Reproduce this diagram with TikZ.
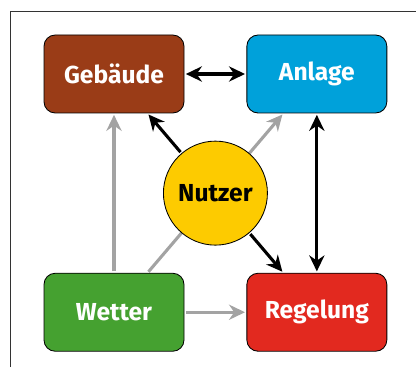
\documentclass[tikz,border=0pt]{standalone}
\usepackage{fontspec}
\setsansfont{Fira Sans}
\usepackage{xcolor}
\definecolor{gebbrown}{HTML}{9A3C17}
\definecolor{anlblue}{HTML}{00A1DA}
\definecolor{wetgreen}{HTML}{45A130}
\definecolor{regred}{HTML}{E2291F}
\definecolor{nutyellow}{HTML}{FDCB00}
\definecolor{linkgray}{HTML}{A3A3A3}
\definecolor{framegray}{HTML}{333333}
\usepackage{tikz}
\usetikzlibrary{positioning, arrows.meta, calc, backgrounds}
\tikzset{
  >={Stealth[length=4mm, width=3.8mm, inset=1.3mm]},
  every node/.style={font=\sffamily\bfseries\fontsize{17.5}{21}\selectfont},
  block/.style={
    rectangle, rounded corners=8pt, draw=black, line width=0.6pt,
    minimum width=3.5cm, minimum height=1.95cm, align=center,
    text=white
  },
  actor/.style={
    circle, draw=black, line width=0.6pt, fill=nutyellow,
    minimum size=2.6cm, inner sep=0pt, text=black
  },
  strong/.style={->, black, line width=2.2pt, shorten >=1pt, shorten <=1pt},
  weak/.style={->, linkgray, line width=2.2pt, shorten >=1pt, shorten <=1pt}
}

\begin{document}
\begin{tikzpicture}

\useasboundingbox (0,0) rectangle (10.4,9.175);

% frame (cut off right and bottom)
\draw[framegray, line width=0.7pt] (0.25,0) -- (0.25,8.9) -- (10.4,8.9);

% Blocks
\node[block, fill=gebbrown] (geb) at (2.85, 7.325) {Gebäude};
\node[block, fill=anlblue, right=1.55cm of geb] (anl) {Anlage};
\node[block, fill=wetgreen, below=3.985cm of geb] (wet) {Wetter};
\node[block, fill=regred, below=3.985cm of anl] (reg) {Regelung};

% User in the middle
\node[actor] (nut) at ($(geb)!0.5!(reg)$) {Nutzer};

% Weather influences (behind the user)
\begin{scope}[on background layer]
\draw[weak] (wet) -- (geb);
\draw[weak] (wet) -- (anl);
\draw[weak] (wet) -- (reg);
\end{scope}

% Couplings
\draw[strong, <->] (geb) -- (anl);
\draw[strong, <->] (anl) -- (reg);
\draw[strong] (nut) -- (geb);
\draw[strong] (nut) -- (reg);

\end{tikzpicture}
\end{document}
